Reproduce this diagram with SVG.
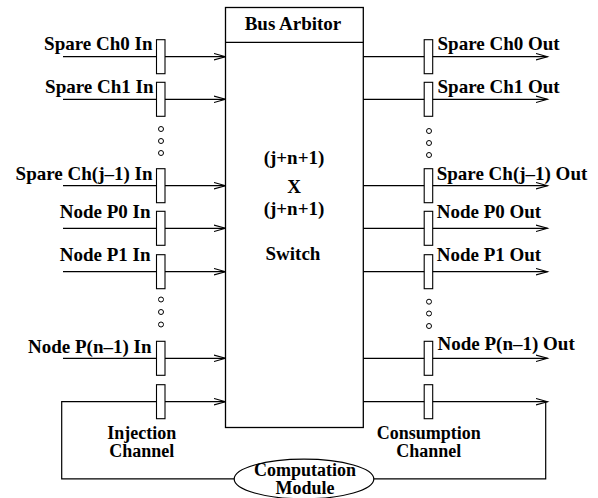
<svg xmlns="http://www.w3.org/2000/svg" width="598" height="498" viewBox="0 0 598 498">
  <defs>
    <marker id="arrow" markerUnits="userSpaceOnUse" markerWidth="14" markerHeight="10" refX="12" refY="4" orient="auto">
      <path d="M0.5,0.8 L12,4 L0.5,7.2" fill="none" stroke="#000" stroke-width="1.1"/>
    </marker>
  </defs>
  <style>
    .lbl { font-family: "Liberation Serif", "Times New Roman", serif; font-weight: bold; font-size: 19px; fill: #000; }
    .sm { font-size: 18px; }
    .mid { text-anchor: middle; }
    .end { text-anchor: end; }
    .wire { fill: none; stroke: #000; stroke-width: 1.2; }
    .arr { marker-end: url(#arrow); }
    .reg { fill: #fff; stroke: #000; stroke-width: 1.1; }
    .dot { fill: #fff; stroke: #000; stroke-width: 1; }
    .box { fill: #fff; stroke: #000; stroke-width: 1.3; }
  </style>

  <!-- connectors -->
  <g id="connectors">
    <!-- inputs to the switch -->
    <line class="wire arr" x1="63" y1="56.7" x2="225.5" y2="56.7"/>
    <line class="wire arr" x1="63" y1="99.3" x2="225.5" y2="99.3"/>
    <line class="wire arr" x1="63" y1="185.7" x2="225.5" y2="185.7"/>
    <line class="wire arr" x1="63" y1="228.3" x2="225.5" y2="228.3"/>
    <line class="wire arr" x1="63" y1="271.7" x2="225.5" y2="271.7"/>
    <line class="wire arr" x1="63" y1="358.3" x2="225.5" y2="358.3"/>
    <!-- outputs of the switch -->
    <line class="wire arr" x1="363" y1="56.7" x2="547.5" y2="56.7"/>
    <line class="wire arr" x1="363" y1="99.3" x2="547.5" y2="99.3"/>
    <line class="wire arr" x1="363" y1="185.7" x2="547.5" y2="185.7"/>
    <line class="wire arr" x1="363" y1="228.3" x2="547.5" y2="228.3"/>
    <line class="wire arr" x1="363" y1="271.7" x2="547.5" y2="271.7"/>
    <line class="wire arr" x1="363" y1="358.3" x2="547.5" y2="358.3"/>
    <!-- injection loop -->
    <path class="wire arr" d="M234.5,478.8 H61.7 V401.7 H225.5"/>
    <!-- consumption loop -->
    <line class="wire arr" x1="363" y1="401.7" x2="547.5" y2="401.7"/>
    <path class="wire" d="M545.7,401.7 V478.8 H373.5"/>
  </g>

  <!-- bus arbitor / switch -->
  <g id="arbitor">
    <rect class="box" x="225.5" y="7.5" width="137.8" height="420"/>
    <line class="wire" x1="225.5" y1="42.3" x2="363.3" y2="42.3" stroke-width="1.3"/>
    <text class="lbl mid" x="293" y="29.5">Bus Arbitor</text>
    <text class="lbl mid" x="294" y="164">(j+n+1)</text>
    <text class="lbl mid" x="294" y="193.3">X</text>
    <text class="lbl mid" x="294" y="215">(j+n+1)</text>
    <text class="lbl mid" x="293" y="260">Switch</text>
  </g>

  <!-- input channel registers -->
  <g id="in-spare0">
    <rect class="reg" x="156.5" y="39.7" width="8.5" height="34"/>
    <text class="lbl end" x="152.5" y="50">Spare Ch0 In</text>
  </g>
  <g id="in-spare1">
    <rect class="reg" x="156.5" y="82.3" width="8.5" height="34"/>
    <text class="lbl end" x="153.5" y="93.3">Spare Ch1 In</text>
  </g>
  <g id="in-dots-spare">
    <circle class="dot" cx="161" cy="129" r="2.5"/>
    <circle class="dot" cx="161" cy="141" r="2.5"/>
    <circle class="dot" cx="161" cy="153" r="2.5"/>
  </g>
  <g id="in-sparej">
    <rect class="reg" x="156.5" y="168.7" width="8.5" height="34"/>
    <text class="lbl end" x="152.5" y="180">Spare Ch(j–1) In</text>
  </g>
  <g id="in-node0">
    <rect class="reg" x="156.5" y="211.3" width="8.5" height="34"/>
    <text class="lbl end" x="150.5" y="218.3">Node P0 In</text>
  </g>
  <g id="in-node1">
    <rect class="reg" x="156.5" y="254.7" width="8.5" height="34"/>
    <text class="lbl end" x="150.5" y="261">Node P1 In</text>
  </g>
  <g id="in-dots-node">
    <circle class="dot" cx="161" cy="299.5" r="2.5"/>
    <circle class="dot" cx="161" cy="312" r="2.5"/>
    <circle class="dot" cx="161" cy="324.5" r="2.5"/>
  </g>
  <g id="in-noden">
    <rect class="reg" x="156.5" y="341.3" width="8.5" height="34"/>
    <text class="lbl end" x="151.5" y="352.7">Node P(n–1) In</text>
  </g>
  <g id="injection">
    <rect class="reg" x="156.5" y="384.7" width="8.5" height="34"/>
    <text class="lbl sm mid" x="141.7" y="438.5">Injection</text>
    <text class="lbl sm mid" x="141.7" y="457">Channel</text>
  </g>

  <!-- output channel registers -->
  <g id="out-spare0">
    <rect class="reg" x="424.2" y="39.7" width="8.5" height="34"/>
    <text class="lbl" x="437.5" y="50">Spare Ch0 Out</text>
  </g>
  <g id="out-spare1">
    <rect class="reg" x="424.2" y="82.3" width="8.5" height="34"/>
    <text class="lbl" x="437.5" y="93.3">Spare Ch1 Out</text>
  </g>
  <g id="out-dots-spare">
    <circle class="dot" cx="429" cy="131" r="2.5"/>
    <circle class="dot" cx="429" cy="143" r="2.5"/>
    <circle class="dot" cx="429" cy="155" r="2.5"/>
  </g>
  <g id="out-sparej">
    <rect class="reg" x="424.2" y="168.7" width="8.5" height="34"/>
    <text class="lbl" x="436.7" y="180">Spare Ch(j–1) Out</text>
  </g>
  <g id="out-node0">
    <rect class="reg" x="424.2" y="211.3" width="8.5" height="34"/>
    <text class="lbl" x="436.7" y="218.3">Node P0 Out</text>
  </g>
  <g id="out-node1">
    <rect class="reg" x="424.2" y="254.7" width="8.5" height="34"/>
    <text class="lbl" x="436.7" y="261">Node P1 Out</text>
  </g>
  <g id="out-dots-node">
    <circle class="dot" cx="429" cy="301.7" r="2.5"/>
    <circle class="dot" cx="429" cy="313.5" r="2.5"/>
    <circle class="dot" cx="429" cy="326" r="2.5"/>
  </g>
  <g id="out-noden">
    <rect class="reg" x="424.2" y="341.3" width="8.5" height="34"/>
    <text class="lbl" x="437.5" y="350">Node P(n–1) Out</text>
  </g>
  <g id="consumption">
    <rect class="reg" x="424.2" y="384.7" width="8.5" height="34"/>
    <text class="lbl sm mid" x="428.7" y="438.5">Consumption</text>
    <text class="lbl sm mid" x="428.7" y="457">Channel</text>
  </g>

  <!-- computation module -->
  <g id="computation">
    <ellipse cx="304" cy="479" rx="69.8" ry="19.8" fill="#fff" stroke="#000" stroke-width="1.2"/>
    <text class="lbl sm mid" x="305" y="475.5">Computation</text>
    <text class="lbl sm mid" x="305" y="494">Module</text>
  </g>
</svg>
